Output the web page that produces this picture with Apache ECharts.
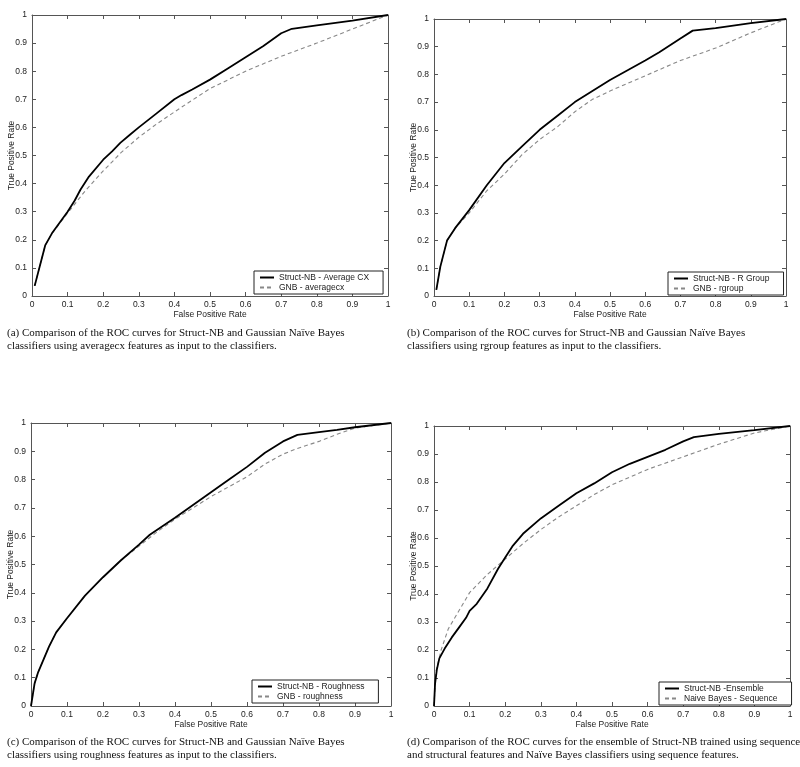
<!DOCTYPE html>
<html>
<head>
<meta charset="utf-8">
<script src="https://cdn.jsdelivr.net/npm/echarts@6/dist/echarts.min.js"></script>
<style>
html,body{margin:0;padding:0;background:#fff;}
#chart{width:800px;height:767px;}
</style>
</head>
<body>
<div id="chart"></div>
<script>
// ---- Data ----
const tickLabels = ['0','0.1','0.2','0.3','0.4','0.5','0.6','0.7','0.8','0.9','1'];

// Panel (a)
const aNames = ['Struct-NB - Average CX', 'GNB - averagecx'];
const aSolid = [[0.0075,0.036],[0.037,0.18],[0.056,0.223],[0.08,0.265],[0.1,0.3],[0.12,0.34],[0.136,0.378],[0.16,0.425],[0.2,0.485],[0.225,0.515],[0.248,0.545],[0.275,0.574],[0.3,0.6],[0.35,0.65],[0.4,0.7],[0.42,0.715],[0.45,0.735],[0.5,0.77],[0.55,0.81],[0.6,0.85],[0.65,0.89],[0.7,0.935],[0.73,0.951],[0.8,0.963],[0.9,0.98],[1,1]];
const aDashed = [[0.0075,0.036],[0.037,0.18],[0.056,0.222],[0.08,0.262],[0.1,0.295],[0.15,0.375],[0.2,0.445],[0.25,0.51],[0.3,0.565],[0.35,0.612],[0.4,0.655],[0.45,0.697],[0.5,0.738],[0.6,0.8],[0.7,0.853],[0.8,0.9],[0.9,0.95],[1,1]];

// Panel (b)
const bNames = ['Struct-NB - R Group', 'GNB - rgroup'];
const bSolid = [[0.0066,0.022],[0.018,0.106],[0.037,0.2],[0.06,0.245],[0.1,0.31],[0.15,0.4],[0.2,0.48],[0.25,0.54],[0.3,0.6],[0.35,0.65],[0.4,0.7],[0.45,0.74],[0.5,0.78],[0.55,0.815],[0.6,0.85],[0.64,0.88],[0.7,0.93],[0.735,0.958],[0.8,0.967],[0.9,0.985],[1,1]];
const bDashed = [[0.0066,0.022],[0.018,0.106],[0.037,0.2],[0.06,0.245],[0.1,0.3],[0.15,0.38],[0.2,0.44],[0.25,0.51],[0.3,0.565],[0.35,0.61],[0.4,0.665],[0.45,0.71],[0.5,0.74],[0.6,0.795],[0.7,0.85],[0.8,0.895],[0.9,0.95],[1,1]];

// Panel (c)
const cNames = ['Struct-NB - Roughness', 'GNB - roughness'];
const cSolid = [[0,0],[0.01,0.08],[0.02,0.12],[0.05,0.21],[0.07,0.26],[0.1,0.31],[0.15,0.39],[0.2,0.455],[0.25,0.515],[0.3,0.57],[0.33,0.605],[0.4,0.665],[0.45,0.71],[0.5,0.755],[0.55,0.8],[0.6,0.845],[0.65,0.895],[0.7,0.935],[0.74,0.958],[0.8,0.968],[0.85,0.976],[0.9,0.985],[1,1]];
const cDashed = [[0,0],[0.01,0.08],[0.02,0.12],[0.05,0.21],[0.07,0.26],[0.1,0.31],[0.15,0.39],[0.2,0.455],[0.25,0.515],[0.3,0.565],[0.35,0.615],[0.4,0.66],[0.45,0.7],[0.5,0.74],[0.55,0.775],[0.6,0.81],[0.65,0.855],[0.7,0.89],[0.74,0.91],[0.8,0.935],[0.85,0.96],[0.9,0.982],[1,1]];

// Panel (d)
const dNames = ['Struct-NB -Ensemble', 'Naive Bayes - Sequence'];
const dSolid = [[0,0],[0.003,0.08],[0.008,0.13],[0.015,0.17],[0.03,0.205],[0.05,0.245],[0.07,0.28],[0.09,0.315],[0.1,0.34],[0.12,0.365],[0.15,0.42],[0.18,0.49],[0.2,0.53],[0.22,0.57],[0.25,0.615],[0.3,0.67],[0.35,0.715],[0.4,0.76],[0.45,0.795],[0.5,0.835],[0.55,0.865],[0.6,0.89],[0.65,0.915],[0.7,0.945],[0.73,0.96],[0.8,0.972],[0.9,0.985],[1,1]];
const dDashed = [[0,0],[0.005,0.12],[0.02,0.2],[0.04,0.275],[0.07,0.34],[0.1,0.405],[0.15,0.47],[0.2,0.525],[0.25,0.58],[0.3,0.63],[0.35,0.675],[0.4,0.715],[0.45,0.755],[0.5,0.79],[0.6,0.845],[0.7,0.89],[0.8,0.935],[0.9,0.975],[1,1]];

const captions = [
  ['(a) Comparison of the ROC curves for Struct-NB and Gaussian Naïve Bayes', 'classifiers using averagecx features as input to the classifiers.'],
  ['(b) Comparison of the ROC curves for Struct-NB and Gaussian Naïve Bayes', 'classifiers using rgroup features as input to the classifiers.'],
  ['(c) Comparison of the ROC curves for Struct-NB and Gaussian Naïve Bayes', 'classifiers using roughness features as input to the classifiers.'],
  ['(d) Comparison of the ROC curves for the ensemble of Struct-NB trained using sequence', 'and structural features and Naïve Bayes classifiers using sequence features.']
];
const xTitle = 'False Positive Rate';
const yTitle = 'True Positive Rate';

// ---- Layout ----
const panels = [
  {grid:{left:32, top:15, width:356, height:281}, names:aNames, solid:aSolid, dashed:aDashed, legend:{left:254, top:271}, cap:{left:7, top:326}},
  {grid:{left:434, top:19, width:352, height:277}, names:bNames, solid:bSolid, dashed:bDashed, legend:{left:668, top:272}, cap:{left:407, top:326}},
  {grid:{left:31, top:423, width:360, height:283}, names:cNames, solid:cSolid, dashed:cDashed, legend:{left:252, top:680}, cap:{left:7, top:735}},
  {grid:{left:434, top:426, width:356, height:280}, names:dNames, solid:dSolid, dashed:dDashed, legend:{left:659, top:682}, cap:{left:407, top:735}}
];

const axisColor = '#555';
const labelFont = {fontFamily:'Liberation Sans, Arial, sans-serif', fontSize:8.5, color:'#222'};

const grids = [], xAxes = [], yAxes = [], series = [], legends = [], graphics = [];
panels.forEach((p, i) => {
  grids.push(Object.assign({containLabel:false}, p.grid));
  const common = {type:'value', min:0, max:1, interval:0.1, gridIndex:i,
    axisLine:{show:true, onZero:false, lineStyle:{color:axisColor, width:1}},
    axisTick:{show:true, inside:true, length:4, lineStyle:{color:axisColor}},
    splitLine:{show:false}};
  xAxes.push(Object.assign({}, common, {position:'bottom',
    axisLabel:Object.assign({margin:4, formatter:(v)=>tickLabels[Math.round(v*10)]}, labelFont),
    name:xTitle, nameLocation:'middle', nameGap:14, nameMoveOverlap:false, nameTextStyle:Object.assign({}, labelFont)}));
  xAxes.push(Object.assign({}, common, {position:'top', axisLabel:{show:false}}));
  yAxes.push(Object.assign({}, common, {position:'left',
    axisLabel:Object.assign({margin:5, formatter:(v)=>tickLabels[Math.round(v*10)]}, labelFont),
    name:yTitle, nameLocation:'middle', nameGap:16, nameMoveOverlap:false, nameTextStyle:Object.assign({}, labelFont)}));
  yAxes.push(Object.assign({}, common, {position:'right', axisLabel:{show:false}}));

  series.push({name:p.names[0], type:'line', xAxisIndex:2*i, yAxisIndex:2*i, data:p.solid,
    symbol:'none', smooth:false, lineStyle:{color:'#000', width:1.8}, itemStyle:{color:'#000'}, z:3});
  series.push({name:p.names[1], type:'line', xAxisIndex:2*i, yAxisIndex:2*i, data:p.dashed,
    symbol:'none', smooth:false, lineStyle:{color:'#888', width:1.1, type:[4,3]}, itemStyle:{color:'#888'}, z:2});

  legends.push({data:p.names, orient:'vertical', left:p.legend.left, top:p.legend.top,
    backgroundColor:'#fff', borderColor:'#222', borderWidth:1, padding:[2,14,2,5],
    itemWidth:14, itemHeight:8, itemGap:1, z:10,
    itemStyle:{opacity:0},
    textStyle:Object.assign({}, labelFont), selectedMode:false});

  graphics.push({type:'text', left:p.cap.left, top:p.cap.top,
    style:{text:captions[i].join('\n'), font:'11px "Liberation Serif", "Times New Roman", serif', fill:'#111', lineHeight:13.5}});
});

const chart = echarts.init(document.getElementById('chart'), null, {renderer:'canvas'});
chart.setOption({
  backgroundColor:'#fff',
  animation:false,
  grid:grids, xAxis:xAxes, yAxis:yAxes, series:series, legend:legends, graphic:graphics
});
</script>
</body>
</html>
